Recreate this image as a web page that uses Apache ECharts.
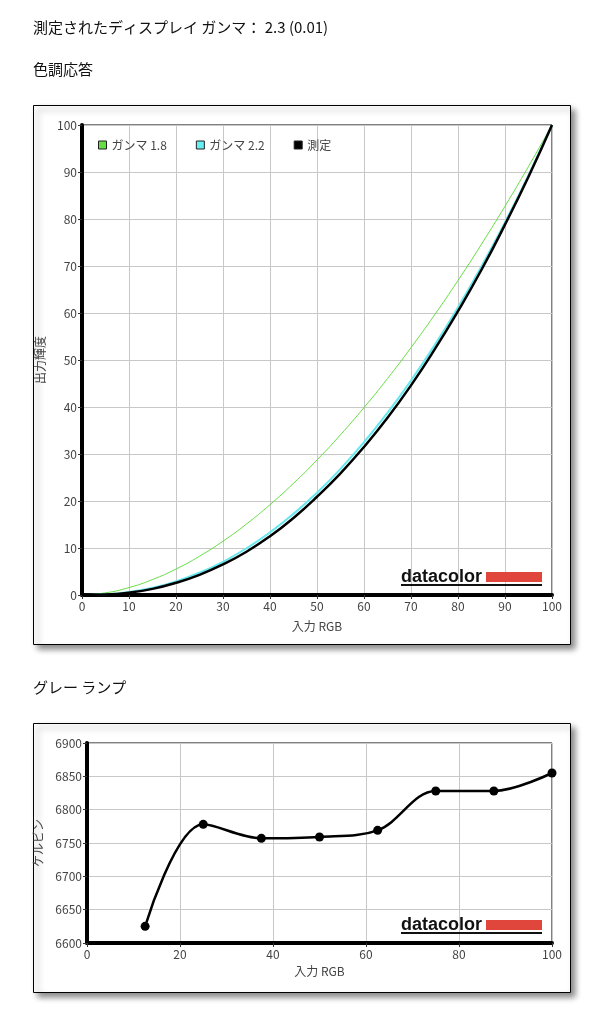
<!DOCTYPE html>
<html><head><meta charset="utf-8">
<script src="https://cdn.jsdelivr.net/npm/echarts@6/dist/echarts.min.js"></script>
<style>html,body{margin:0;padding:0;background:#fff}#c{width:602px;height:1024px}</style>
</head><body><div id="c"></div>
<script>
// ---- data ----
const inputLevels = [0,5,10,15,20,25,30,35,40,45,50,55,60,65,70,75,80,85,90,95,100];
const gamma18 = [0,0.46,1.58,3.29,5.52,8.25,11.45,15.11,19.22,23.76,28.72,34.09,39.87,46.05,52.63,59.58,66.92,74.64,82.72,91.18,100];
const gamma22 = [0,0.14,0.63,1.54,2.90,4.74,7.07,9.93,13.32,17.26,21.76,26.84,32.50,38.76,45.63,53.11,61.21,69.94,79.31,89.33,100];
const measured = [0,0.1,0.5,1.3,2.6,4.3,6.5,9.2,12.5,16.4,20.9,25.9,31.5,37.7,44.6,52.2,60.4,69.2,78.8,89.0,100];
const rampInput = [12.5,25,37.5,50,62.5,75,87.5,100];
const rampKelvin = [6625,6778,6757,6759,6769,6828,6828,6855];
const seriesNames = ['ガンマ 1.8','ガンマ 2.2','測定'];
const titleMain = '測定されたディスプレイ ガンマ： 2.3 (0.01)';
const titleTone = '色調応答';
const titleGray = 'グレー ランプ';

const FONT = '"Noto Sans CJK JP", "Noto Sans", sans-serif';
const pair = (xs, ys) => xs.map((x, i) => [x, ys[i]]);

const chart = echarts.init(document.getElementById('c'), null, {renderer: 'canvas'});

function axisCommon(extra) {
  return Object.assign({
    axisLine: {show: true, lineStyle: {color: '#000', width: 4}},
    axisTick: {show: true, length: 4, lineStyle: {color: '#333', width: 1}},
    axisLabel: {color: '#444', fontSize: 12, fontFamily: FONT, margin: 5, formatter: v => String(v)},
    splitLine: {show: true, lineStyle: {color: '#c8c8c8', width: 1}},
    nameTextStyle: {color: '#444', fontSize: 12, fontFamily: FONT}
  }, extra);
}

function logo(x, y) {
  return [
    {type: 'text', left: x, top: y + 1, z: 10,
     style: {text: 'datacolor', font: 'bold 18px "Liberation Sans", Arial, sans-serif', fill: '#111'}},
    {type: 'rect', left: x + 85, top: y + 5, z: 10, shape: {width: 56, height: 10}, style: {fill: '#e0463c'}},
    {type: 'rect', left: x, top: y + 17, z: 10, shape: {width: 141, height: 2}, style: {fill: '#111'}}
  ];
}

const option = {
  animation: false,
  textStyle: {fontFamily: FONT},
  graphic: [
    {type: 'text', left: 33, top: 20, style: {text: titleMain, font: '15px ' + FONT, fill: '#111'}},
    {type: 'text', left: 33, top: 62, style: {text: titleTone, font: '15px ' + FONT, fill: '#111'}},
    {type: 'text', left: 33, top: 680, style: {text: titleGray, font: '15px ' + FONT, fill: '#111'}},
    {type: 'rect', left: 33, top: 105, z: -10, shape: {width: 537, height: 539},
     style: {fill: '#fff', stroke: '#000', lineWidth: 1, shadowBlur: 6, shadowOffsetX: 4, shadowOffsetY: 4, shadowColor: 'rgba(0,0,0,0.45)'}},
    {type: 'rect', left: 33, top: 723, z: -10, shape: {width: 537, height: 269},
     style: {fill: '#fff', stroke: '#000', lineWidth: 1, shadowBlur: 6, shadowOffsetX: 4, shadowOffsetY: 4, shadowColor: 'rgba(0,0,0,0.45)'}},
    ...logo(401, 567),
    ...logo(401, 915)
  ],
  legend: {
    data: seriesNames,
    left: 93, top: 134,
    icon: 'rect', itemWidth: 8, itemHeight: 8, itemGap: 29,
    itemStyle: {borderColor: '#222', borderWidth: 1},
    textStyle: {color: '#444', fontSize: 12, fontFamily: FONT}
  },
  grid: [
    {left: 82, top: 125, width: 470, height: 470, show: true, borderColor: '#000', borderWidth: 1, backgroundColor: 'transparent'},
    {left: 87, top: 743, width: 465, height: 200, show: true, borderColor: '#000', borderWidth: 1, backgroundColor: 'transparent'}
  ],
  xAxis: [
    axisCommon({type: 'value', gridIndex: 0, min: 0, max: 100, interval: 10, name: '入力 RGB', nameLocation: 'middle', nameGap: 25}),
    axisCommon({type: 'value', gridIndex: 1, min: 0, max: 100, interval: 20, name: '入力 RGB', nameLocation: 'middle', nameGap: 22})
  ],
  yAxis: [
    axisCommon({type: 'value', gridIndex: 0, min: 0, max: 100, interval: 10, name: '出力輝度', nameLocation: 'middle', nameGap: 28}),
    axisCommon({type: 'value', gridIndex: 1, min: 6600, max: 6900, interval: 50, name: 'ケルビン', nameLocation: 'middle', nameGap: 33})
  ],
  series: [
    {name: seriesNames[0], type: 'line', xAxisIndex: 0, yAxisIndex: 0, data: pair(inputLevels, gamma18),
     smooth: true, showSymbol: false, color: '#66dd44', lineStyle: {color: '#66dd44', width: 1}},
    {name: seriesNames[1], type: 'line', xAxisIndex: 0, yAxisIndex: 0, data: pair(inputLevels, gamma22),
     smooth: true, showSymbol: false, color: '#66eef0', lineStyle: {color: '#66e8ee', width: 2}},
    {name: seriesNames[2], type: 'line', xAxisIndex: 0, yAxisIndex: 0, data: pair(inputLevels, measured),
     smooth: true, showSymbol: false, color: '#000', lineStyle: {color: '#000', width: 2.5}},
    {name: 'gray', type: 'line', xAxisIndex: 1, yAxisIndex: 1, data: pair(rampInput, rampKelvin),
     smooth: 0.35, symbol: 'circle', symbolSize: 9, color: '#000', lineStyle: {color: '#000', width: 2.5},
     itemStyle: {color: '#000'}}
  ]
};
chart.setOption(option);
</script>
</body></html>
